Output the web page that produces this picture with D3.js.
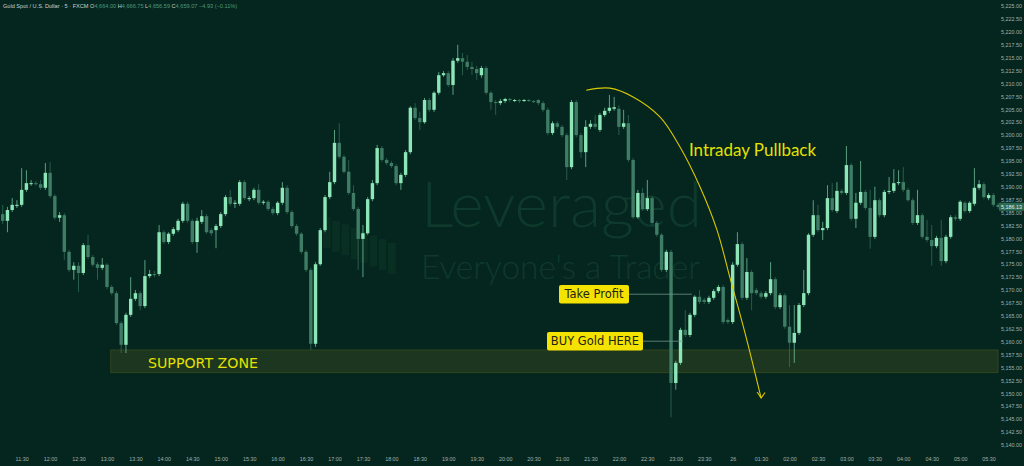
<html>
<head>
<script src="https://cdn.jsdelivr.net/npm/d3@7/dist/d3.min.js"></script>
<style>
  body { margin: 0; background: #04261e; overflow: hidden; }
</style>
</head>
<body>
<script>

var width = 1024;
var height = 466;

// 5 minute candles, 11:10 -> 05:35
var opens = [
  5184.7, 5183.4, 5185.5, 5186.3, 5186.5, 5189.4, 5190.5, 5190.7, 5190.5, 5189.8,
  5192.7, 5188.2, 5184.0, 5184.5, 5177.4, 5173.9, 5174.7, 5173.3, 5178.7, 5176.4,
  5175.0, 5174.3, 5174.9, 5170.6, 5169.4, 5163.6, 5159.4, 5165.2, 5168.3, 5169.4,
  5166.9, 5172.7, 5173.1, 5173.1, 5181.2, 5179.3, 5180.9, 5181.6, 5183.4, 5186.7,
  5183.4, 5179.3, 5183.2, 5184.3, 5181.6, 5181.6, 5182.4, 5184.7, 5188.0, 5186.7,
  5186.7, 5190.9, 5187.6, 5187.8, 5189.4, 5186.9, 5187.1, 5185.7, 5184.9, 5186.9,
  5189.8, 5185.1, 5182.4, 5180.9, 5177.4, 5173.9, 5159.6, 5175.0, 5181.6, 5188.0,
  5190.9, 5198.5, 5195.8, 5192.9, 5188.8, 5185.7, 5179.9, 5181.0, 5187.6, 5190.7,
  5197.5, 5195.2, 5194.6, 5194.0, 5190.7, 5192.3, 5196.7, 5205.3, 5203.3, 5202.5,
  5206.8, 5204.9, 5208.2, 5211.6, 5212.0, 5209.7, 5214.4, 5214.9, 5214.2, 5213.2,
  5212.8, 5211.6, 5213.0, 5208.2, 5206.4, 5206.2, 5206.6, 5207.0, 5206.6, 5206.8,
  5206.6, 5206.8, 5206.6, 5206.8, 5206.2, 5204.9, 5200.4, 5202.3, 5201.6, 5200.0,
  5193.8, 5206.4, 5200.0, 5196.7, 5201.6, 5202.2, 5201.0, 5203.9, 5204.7, 5205.1,
  5205.1, 5201.6, 5202.3, 5195.2, 5184.1, 5188.8, 5185.7, 5187.8, 5183.0, 5180.7,
  5173.9, 5177.4, 5152.0, 5155.9, 5162.3, 5161.3, 5165.2, 5168.7, 5168.1, 5167.7,
  5168.5, 5169.8, 5170.6, 5164.2, 5163.8, 5174.9, 5178.9, 5168.5, 5173.5, 5170.0,
  5169.4, 5168.7, 5169.4, 5172.1, 5166.7, 5169.0, 5162.9, 5159.8, 5161.7, 5167.1,
  5169.4, 5180.7, 5184.5, 5181.6, 5182.0, 5187.8, 5185.3, 5189.2, 5188.8, 5194.2,
  5183.8, 5186.9, 5189.0, 5185.9, 5180.3, 5187.4, 5184.5, 5189.0, 5189.2, 5190.7,
  5190.9, 5189.4, 5187.4, 5183.0, 5184.5, 5180.3, 5179.7, 5178.5, 5180.1, 5175.6,
  5180.3, 5184.1, 5183.8, 5186.9, 5185.3, 5186.7, 5189.8, 5190.5, 5187.8, 5188.4,
  5186.5
];
var highs = [
  5186.5, 5186.1, 5187.8, 5187.4, 5193.6, 5193.2, 5191.3, 5191.1, 5191.3, 5194.6,
  5194.8, 5188.6, 5185.1, 5184.9, 5177.8, 5175.4, 5175.4, 5179.1, 5180.7, 5176.8,
  5175.4, 5176.2, 5175.2, 5171.0, 5169.8, 5164.0, 5165.6, 5172.5, 5170.0, 5169.8,
  5175.8, 5173.9, 5173.7, 5182.6, 5181.6, 5181.2, 5182.2, 5183.8, 5187.1, 5187.1,
  5183.8, 5184.0, 5185.5, 5184.7, 5182.0, 5182.8, 5185.1, 5188.4, 5189.4, 5187.4,
  5191.3, 5191.3, 5188.2, 5189.8, 5190.5, 5187.4, 5187.4, 5186.1, 5187.2, 5190.9,
  5190.3, 5185.5, 5182.8, 5181.2, 5177.8, 5174.3, 5175.4, 5182.0, 5188.4, 5192.9,
  5201.0, 5202.3, 5196.2, 5195.2, 5190.3, 5186.1, 5182.6, 5188.0, 5191.3, 5198.1,
  5197.9, 5195.6, 5195.0, 5194.4, 5192.7, 5197.1, 5205.6, 5206.2, 5204.5, 5207.2,
  5207.2, 5208.5, 5212.2, 5212.4, 5212.4, 5214.9, 5217.5, 5215.9, 5215.5, 5214.2,
  5213.4, 5213.4, 5213.4, 5208.5, 5206.8, 5207.0, 5207.2, 5207.2, 5207.0, 5207.0,
  5207.0, 5207.0, 5206.8, 5207.0, 5206.6, 5205.3, 5202.7, 5202.7, 5202.0, 5200.4,
  5206.8, 5206.8, 5200.4, 5202.9, 5202.9, 5203.9, 5204.3, 5205.3, 5207.8, 5207.4,
  5205.8, 5204.9, 5203.9, 5195.6, 5189.4, 5189.8, 5191.3, 5188.2, 5183.4, 5181.0,
  5177.8, 5177.8, 5156.3, 5162.7, 5166.1, 5165.6, 5169.0, 5170.0, 5168.5, 5168.9,
  5170.2, 5171.0, 5171.0, 5164.6, 5175.4, 5181.2, 5179.3, 5176.2, 5173.9, 5170.4,
  5169.8, 5169.8, 5175.4, 5172.5, 5169.4, 5169.4, 5167.1, 5167.1, 5167.5, 5173.9,
  5181.0, 5187.4, 5186.5, 5183.2, 5190.3, 5190.7, 5190.9, 5189.6, 5197.9, 5194.6,
  5188.8, 5195.0, 5189.4, 5189.4, 5190.0, 5187.8, 5189.4, 5191.9, 5193.4, 5193.2,
  5193.8, 5189.8, 5187.8, 5189.4, 5184.9, 5183.6, 5182.6, 5180.5, 5183.6, 5180.7,
  5184.5, 5184.5, 5187.4, 5187.2, 5187.2, 5193.6, 5191.3, 5190.9, 5188.8, 5188.8,
  5186.9
];
var lows = [
  5182.8, 5181.2, 5185.1, 5185.9, 5186.1, 5189.0, 5190.2, 5190.2, 5189.4, 5189.4,
  5187.8, 5183.6, 5183.2, 5175.8, 5173.5, 5172.0, 5169.6, 5172.9, 5176.0, 5174.5,
  5172.0, 5173.9, 5170.2, 5169.0, 5163.2, 5157.8, 5157.8, 5164.8, 5167.9, 5166.1,
  5166.5, 5172.3, 5172.5, 5172.7, 5178.9, 5178.9, 5180.5, 5181.2, 5183.0, 5183.0,
  5178.9, 5177.2, 5182.8, 5180.9, 5180.5, 5178.1, 5182.0, 5184.3, 5186.3, 5185.9,
  5186.3, 5187.4, 5187.2, 5187.4, 5186.5, 5186.5, 5185.3, 5184.5, 5184.5, 5186.5,
  5184.7, 5182.0, 5180.5, 5177.0, 5173.5, 5158.4, 5159.0, 5174.7, 5181.2, 5187.6,
  5190.5, 5195.4, 5192.5, 5188.4, 5185.3, 5173.9, 5172.5, 5180.7, 5187.2, 5190.3,
  5194.8, 5194.2, 5193.6, 5190.3, 5189.4, 5191.9, 5196.3, 5202.9, 5201.0, 5202.2,
  5204.5, 5204.5, 5207.8, 5211.3, 5209.3, 5207.8, 5214.0, 5211.6, 5212.6, 5211.6,
  5210.7, 5211.1, 5207.8, 5204.9, 5203.9, 5205.8, 5206.2, 5206.4, 5206.4, 5206.2,
  5206.4, 5206.4, 5206.2, 5205.8, 5204.5, 5200.0, 5200.0, 5201.2, 5199.6, 5191.3,
  5193.4, 5199.6, 5195.6, 5193.8, 5201.2, 5201.2, 5200.6, 5203.5, 5204.3, 5204.7,
  5200.0, 5201.2, 5194.8, 5183.8, 5183.8, 5185.3, 5185.3, 5182.6, 5180.3, 5173.5,
  5173.5, 5145.4, 5150.7, 5155.5, 5160.9, 5160.9, 5164.8, 5167.3, 5167.3, 5167.3,
  5168.1, 5169.4, 5163.4, 5163.4, 5163.4, 5174.5, 5168.1, 5168.1, 5166.1, 5169.0,
  5168.3, 5168.3, 5169.0, 5166.3, 5166.3, 5162.5, 5155.1, 5155.9, 5161.3, 5166.7,
  5169.0, 5180.3, 5181.2, 5179.7, 5181.6, 5185.1, 5184.9, 5188.4, 5188.4, 5183.4,
  5182.0, 5186.5, 5185.5, 5178.0, 5179.9, 5184.1, 5184.1, 5188.6, 5188.8, 5190.3,
  5189.0, 5187.1, 5182.6, 5182.6, 5179.9, 5179.3, 5174.7, 5178.1, 5174.7, 5175.2,
  5179.9, 5183.4, 5183.4, 5184.9, 5184.9, 5186.3, 5189.4, 5187.6, 5187.4, 5186.1,
  5185.7
];
var closes = [
  5183.4, 5185.5, 5186.5, 5186.5, 5189.4, 5190.7, 5190.7, 5190.5, 5189.8, 5192.7,
  5188.2, 5184.0, 5184.5, 5177.4, 5173.9, 5174.7, 5173.3, 5178.7, 5176.4, 5174.9,
  5174.3, 5174.9, 5170.6, 5169.4, 5163.6, 5159.4, 5165.2, 5168.3, 5169.4, 5166.9,
  5172.7, 5173.1, 5172.9, 5181.2, 5179.3, 5180.9, 5181.8, 5183.4, 5186.7, 5183.4,
  5179.3, 5183.4, 5184.3, 5181.2, 5181.0, 5182.4, 5184.7, 5188.0, 5186.7, 5186.9,
  5190.9, 5187.8, 5187.8, 5189.4, 5186.9, 5187.1, 5185.7, 5184.9, 5186.9, 5189.8,
  5185.1, 5182.4, 5180.9, 5177.4, 5173.9, 5159.6, 5175.0, 5181.6, 5188.0, 5190.9,
  5198.5, 5195.8, 5192.9, 5188.8, 5185.7, 5179.9, 5181.0, 5187.6, 5190.7, 5197.5,
  5195.2, 5194.6, 5194.0, 5190.7, 5192.3, 5196.7, 5205.3, 5203.3, 5202.5, 5206.8,
  5204.9, 5208.2, 5211.6, 5212.0, 5209.7, 5214.4, 5214.9, 5214.2, 5213.2, 5212.8,
  5212.0, 5213.0, 5208.2, 5206.4, 5206.2, 5206.6, 5207.0, 5206.8, 5206.8, 5206.6,
  5206.8, 5206.6, 5206.4, 5206.2, 5204.9, 5200.4, 5202.3, 5201.6, 5200.0, 5193.8,
  5206.4, 5200.0, 5196.7, 5201.6, 5202.2, 5201.6, 5203.9, 5204.7, 5205.3, 5205.4,
  5201.6, 5202.3, 5195.2, 5184.1, 5188.8, 5185.7, 5187.8, 5183.0, 5180.7, 5173.9,
  5177.4, 5152.0, 5155.9, 5162.3, 5161.3, 5165.2, 5168.7, 5167.7, 5167.7, 5168.5,
  5169.8, 5170.6, 5163.8, 5163.8, 5174.9, 5178.9, 5168.5, 5173.5, 5169.4, 5169.4,
  5168.7, 5169.4, 5172.1, 5166.7, 5169.0, 5162.9, 5159.8, 5161.7, 5167.1, 5169.4,
  5180.7, 5184.5, 5181.6, 5182.0, 5187.8, 5185.5, 5189.2, 5188.8, 5194.2, 5183.8,
  5186.9, 5189.0, 5185.9, 5180.3, 5187.4, 5184.5, 5189.0, 5189.2, 5190.7, 5190.9,
  5189.4, 5187.4, 5183.0, 5184.5, 5180.3, 5179.7, 5178.5, 5180.1, 5175.6, 5180.3,
  5184.1, 5183.8, 5187.1, 5185.3, 5186.9, 5189.8, 5190.5, 5188.0, 5188.4, 5186.5,
  5186.1
];

var timeLabels = ['11:30','12:00','12:30','13:00','13:30','14:00','14:30','15:00','15:30','16:00',
  '16:30','17:00','17:30','18:00','18:30','19:00','19:30','20:00','20:30','21:00','21:30','22:00',
  '22:30','23:00','23:30','26','01:30','02:00','02:30','03:00','03:30','04:00','04:30','05:00','05:30'];
var timeIdx = [4,10,16,22,28,34,40,46,52,58,64,70,76,82,88,94,100,106,112,118,124,130,
  136,142,148,154,160,166,172,178,184,190,196,202,208];
var priceTicks = [5140,5142.5,5145,5147.5,5150,5152.5,5155,5157.5,5160,5162.5,5165,5167.5,
  5170,5172.5,5175,5177.5,5180,5182.5,5185,5187.5,5190,5192.5,5195,5197.5,5200,5202.5,
  5205,5207.5,5210,5212.5,5215,5217.5,5220,5222.5,5225];

var lastPrice = 5186.13;
var supportTop = 5158.4, supportBottom = 5154.0, supportFrom = 22.8;
var takeProfit = 5169.2, takeProfitEnd = 145.4;
var buyLevel = 5160.1, buyEnd = 143.5;
// hand drawn pullback arc: [candle index, price]
var pullbackArc = [[123.1,5208.7],[128.1,5209.1],[133.0,5207.4],[138.7,5203.5],[142.9,5197.7],
  [147.1,5190.0],[150.7,5181.6],[153.4,5172.5],[156.6,5161.7],[160.0,5149.1]];

var upCol = '#8de6b8', downCol = '#3e7c65';
var bg = '#04261e';
var axisFont = 'Liberation Sans, Arial, sans-serif';

var svg = d3.select('body').append('svg')
  .attr('width', width)
  .attr('height', height);

svg.append('rect').attr('width', width).attr('height', height).style('fill', bg);

var x = d3.scaleLinear().domain([0, opens.length - 1]).range([2.7, 998.1]);
var y = d3.scaleLinear().domain([5140, 5225]).range([445, 6]);

// watermark
var wm = svg.append('g').style('fill', '#0f392c');
wm.append('text').attr('x', 421).attr('y', 227)
  .style('font-family', 'Lato, sans-serif').style('font-weight', 300).style('font-size', '64px')
  .attr('textLength', 281).attr('lengthAdjust', 'spacingAndGlyphs')
  .text('Leveraged');
wm.append('text').attr('x', 421).attr('y', 279)
  .style('font-family', 'Lato, sans-serif').style('font-weight', 300).style('font-size', '33px')
  .attr('textLength', 279).attr('lengthAdjust', 'spacingAndGlyphs')
  .text("Everyone's a Trader");
var logo = d3.range(8);
wm.selectAll('rect.logo').data(logo).enter().append('rect')
  .attr('class', 'logo')
  .attr('x', function(d){ return 323 + d * 9.3; })
  .attr('y', function(d){ return 217 + d * 3.7; })
  .attr('width', 7.5)
  .attr('height', 31)
  .style('fill', '#092f23');

// support zone
svg.append('rect')
  .attr('x', x(supportFrom))
  .attr('y', y(supportTop))
  .attr('width', 998 - x(supportFrom))
  .attr('height', y(supportBottom) - y(supportTop))
  .style('fill', '#1c361f')
  .style('stroke', '#3a4a1e')
  .style('stroke-width', 0.8);

// candles
var idx = d3.range(opens.length);
var candles = svg.append('g');
candles.selectAll('line')
  .data(idx)
  .enter()
  .append('line')
  .attr('x1', function(i){ return x(i); })
  .attr('x2', function(i){ return x(i); })
  .attr('y1', function(i){ return y(highs[i]); })
  .attr('y2', function(i){ return y(lows[i]); })
  .style('stroke', function(i){ return closes[i] >= opens[i] ? upCol : downCol; })
  .style('stroke-width', 0.9)
  .style('opacity', 0.7);
candles.selectAll('rect')
  .data(idx)
  .enter()
  .append('rect')
  .attr('x', function(i){ return x(i) - 1.7; })
  .attr('width', 3.4)
  .attr('y', function(i){ return y(Math.max(opens[i], closes[i])); })
  .attr('height', function(i){ return Math.max(1, Math.abs(y(opens[i]) - y(closes[i]))); })
  .style('fill', function(i){ return closes[i] >= opens[i] ? upCol : downCol; });

// support text
svg.append('text').attr('x', 148).attr('y', 368)
  .style('font-family', 'DejaVu Sans, sans-serif').style('font-size', '14px')
  .style('fill', '#e6e100')
  .attr('textLength', 110).attr('lengthAdjust', 'spacingAndGlyphs')
  .text('SUPPORT ZONE');

// level callouts
function callout(label, level, endIdx, boxX, boxW) {
  var yy = y(level);
  svg.append('line')
    .attr('x1', boxX + boxW).attr('x2', x(endIdx))
    .attr('y1', yy).attr('y2', yy)
    .style('stroke', '#6f9685').style('stroke-width', 0.8);
  svg.append('rect')
    .attr('x', boxX).attr('y', yy - 9.2)
    .attr('width', boxW).attr('height', 18.4)
    .attr('rx', 2)
    .style('fill', '#f4e300');
  svg.append('text')
    .attr('x', boxX + boxW / 2).attr('y', yy + 4)
    .attr('text-anchor', 'middle')
    .style('font-family', 'DejaVu Sans, sans-serif').style('font-size', '11.5px')
    .style('fill', '#1d2418')
    .text(label);
}
callout('Take Profit', takeProfit, takeProfitEnd, 559, 70);
callout('BUY Gold HERE', buyLevel, buyEnd, 547, 96);

// pullback arc
var arcLine = d3.line()
  .x(function(d){ return x(d[0]); })
  .y(function(d){ return y(d[1]); })
  .curve(d3.curveCatmullRom);
svg.append('path')
  .datum(pullbackArc)
  .attr('d', arcLine)
  .style('fill', 'none')
  .style('stroke', '#d9c900')
  .style('stroke-width', 1.1);
var tip = pullbackArc[pullbackArc.length - 1];
var tx = x(tip[0]), ty = y(tip[1]);
svg.append('path')
  .attr('d', 'M' + (tx - 4) + ',' + (ty - 6) + 'L' + tx + ',' + ty + 'L' + (tx + 4) + ',' + (ty - 5.5))
  .style('fill', 'none')
  .style('stroke', '#d9c900')
  .style('stroke-width', 1.1);

svg.append('text').attr('x', 689).attr('y', 156)
  .style('font-family', 'Lato, sans-serif').style('font-size', '17px')
  .style('fill', '#e6e100')
  .attr('textLength', 127).attr('lengthAdjust', 'spacingAndGlyphs')
  .text('Intraday Pullback');

// axes
var yAxis = d3.axisRight(y)
  .tickValues(priceTicks)
  .tickFormat(d3.format(',.2f'))
  .tickSize(0)
  .tickPadding(0);
var ya = svg.append('g').attr('transform', 'translate(1022,0)').call(yAxis);
ya.select('.domain').remove();
ya.selectAll('text')
  .attr('text-anchor', 'end')
  .style('font-family', axisFont).style('font-size', '5.4px').style('fill', '#a5b0ab');

var xAxis = d3.axisBottom(x)
  .tickValues(timeIdx)
  .tickFormat(function(d, i){ return timeLabels[i]; })
  .tickSize(0)
  .tickPadding(0);
var xa = svg.append('g').attr('transform', 'translate(0,457)').call(xAxis);
xa.select('.domain').remove();
xa.selectAll('text').style('font-family', axisFont).style('font-size', '5.4px').style('fill', '#a5b0ab');

// last price tag
var lp = svg.append('g');
lp.append('rect').attr('x', 999).attr('y', y(lastPrice) - 4).attr('width', 25).attr('height', 8)
  .style('fill', '#2d6a53');
lp.append('text').attr('x', 1022).attr('y', y(lastPrice) + 2)
  .attr('text-anchor', 'end')
  .style('font-family', axisFont).style('font-size', '5.4px').style('fill', '#e8efe9')
  .text(d3.format(',.2f')(lastPrice));

// header
var hdr = svg.append('text').attr('x', 3).attr('y', 8)
  .style('font-family', axisFont).style('font-size', '5.6px').style('fill', '#c9d2ce');
hdr.append('tspan').text('Gold Spot / U.S. Dollar · 5 · FXCM  ');
var ohlc = [['O', '4,664.00'], ['H', '4,666.75'], ['L', '4,656.59'], ['C', '4,659.07']];
ohlc.forEach(function(d){
  hdr.append('tspan').text(' ' + d[0]);
  hdr.append('tspan').style('fill', '#4f9a7c').text(d[1]);
});
hdr.append('tspan').style('fill', '#4f9a7c').text('  −4.93 (−0.11%)');

</script>
</body>
</html>
